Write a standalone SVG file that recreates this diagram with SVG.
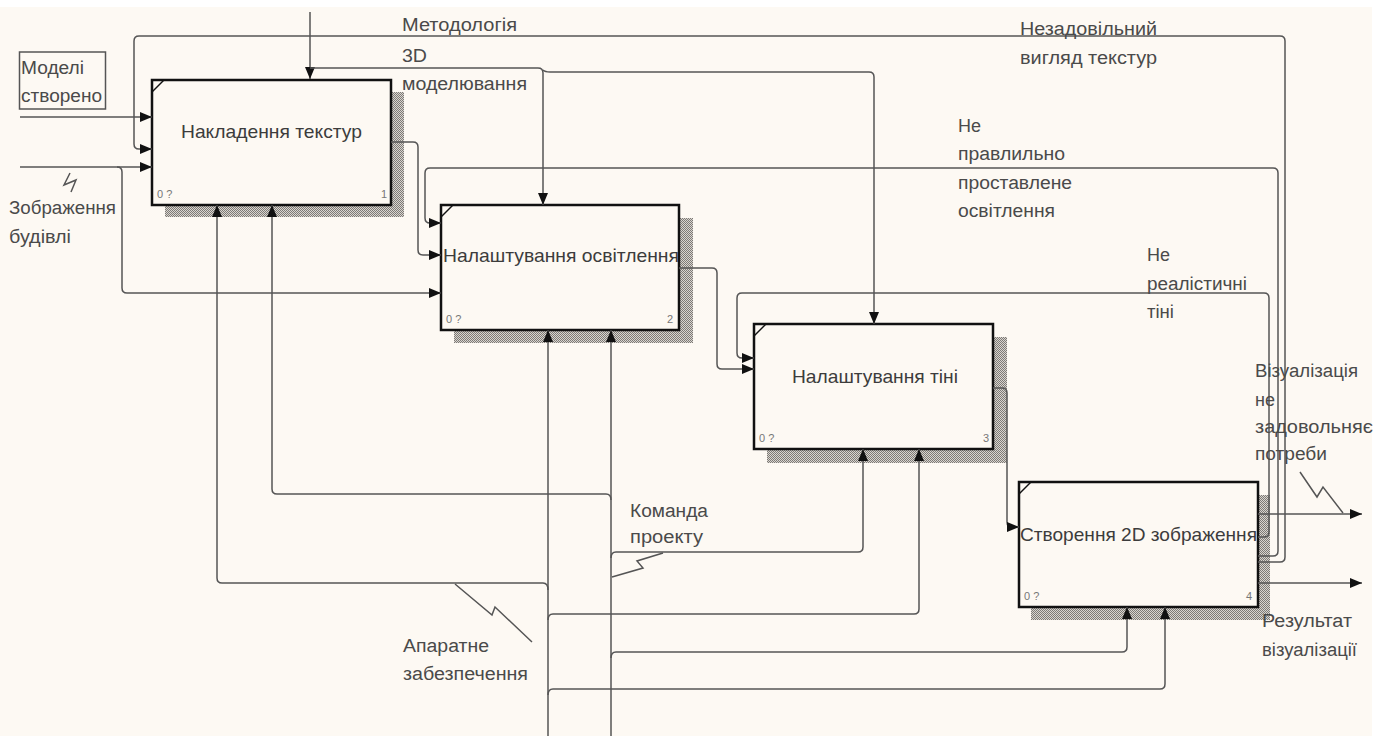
<svg xmlns="http://www.w3.org/2000/svg" width="1382" height="736" viewBox="0 0 1382 736">
<defs>
<pattern id="hatch" width="2" height="2" patternUnits="userSpaceOnUse">
<rect width="2" height="2" fill="#d9d5cf"/>
<rect width="1" height="1" fill="#7d7a76"/>
<rect x="1" y="1" width="1" height="1" fill="#7d7a76"/>
</pattern>
<marker id="ah" viewBox="0 0 12 10" refX="12" refY="5" markerWidth="12" markerHeight="10" markerUnits="userSpaceOnUse" orient="auto">
<path d="M0,0 L12,5 L0,10 z" fill="#111"/>
</marker>
</defs>
<style>
.bg{fill:#fdf9f3}
.box{fill:#fdf9f3;stroke:#111;stroke-width:2.5}
.sh{fill:url(#hatch)}
.tick{stroke:#111;stroke-width:1.5;fill:none}
.ln{fill:none;stroke:#555;stroke-width:1.5}
.ar{marker-end:url(#ah)}
.t{font-family:"Liberation Sans",Arial,sans-serif;font-size:18px;fill:#4a4a4a}
.tt{font-family:"Liberation Sans",Arial,sans-serif;font-size:19px;fill:#3c3c3c}
.s{font-family:"Liberation Sans",Arial,sans-serif;font-size:11px;fill:#777}
</style>
<rect width="1382" height="736" fill="#ffffff"/>
<rect class="bg" x="0" y="7" width="1372" height="729"/>

<g id="node1">
<rect class="sh" x="165" y="92" width="239" height="125"/>
<rect class="box" x="152" y="80" width="239" height="125"/>
<path class="tick" d="M152,92 L164,80"/>
<text class="tt" x="181" y="138" textLength="181" lengthAdjust="spacingAndGlyphs">Накладення текстур</text>
<text class="s" x="157" y="198">0 ?</text>
<text class="s" x="381" y="198">1</text>
</g>

<g id="node2">
<rect class="sh" x="454" y="218" width="239" height="125"/>
<rect class="box" x="441" y="205" width="238" height="125"/>
<path class="tick" d="M441,217 L453,205"/>
<text class="tt" x="443" y="262" textLength="236" lengthAdjust="spacingAndGlyphs">Налаштування освітлення</text>
<text class="s" x="446" y="323">0 ?</text>
<text class="s" x="667" y="323">2</text>
</g>

<g id="node3">
<rect class="sh" x="767" y="337" width="240" height="126"/>
<rect class="box" x="754" y="324" width="239" height="125"/>
<path class="tick" d="M754,336 L766,324"/>
<text class="tt" x="792" y="383" textLength="166" lengthAdjust="spacingAndGlyphs">Налаштування тіні</text>
<text class="s" x="759" y="442">0 ?</text>
<text class="s" x="983" y="442">3</text>
</g>

<g id="node4">
<rect class="sh" x="1031" y="495" width="239" height="125"/>
<rect class="box" x="1019" y="482" width="239" height="125"/>
<path class="tick" d="M1019,494 L1031,482"/>
<text class="tt" x="1020" y="541" textLength="237" lengthAdjust="spacingAndGlyphs">Створення 2D зображення</text>
<text class="s" x="1024" y="600">0 ?</text>
<text class="s" x="1246" y="600">4</text>
</g>

<g id="connectors">
<path class="ln ar" d="M20,117 H152"/>
<path class="ln ar" d="M20,167 H152"/>
<path class="ln ar" d="M117,167 Q122,167 122,172 V288 Q122,293 127,293 H441"/>
<path class="ln ar" d="M310,12 V79"/>
<path class="ln ar" d="M310,68 H538 Q543,68 543,73 V205"/>
<path class="ln ar" d="M543,70 Q545,72 550,72 H869 Q874,72 874,77 V324"/>
<path class="ln ar" d="M391,142 H413 Q418,142 418,147 V250 Q418,255 423,255 H441"/>
<path class="ln ar" d="M679,268 H712 Q717,268 717,273 V364 Q717,369 722,369 H754"/>
<path class="ln ar" d="M993,388 H1002 Q1007,388 1007,393 V522 Q1007,527 1012,527 H1019"/>
<path class="ln ar" d="M1258,514 H1362"/>
<path class="ln ar" d="M1258,583 H1362"/>
<path class="ln ar" d="M1258,537 H1264 Q1269,537 1269,532 V298 Q1269,293 1264,293 H742 Q737,293 737,298 V353 Q737,358 742,358 H754"/>
<path class="ln ar" d="M1258,556 H1273 Q1278,556 1278,551 V173 Q1278,168 1273,168 H430 Q425,168 425,173 V218 Q425,223 430,223 H441"/>
<path class="ln ar" d="M1258,562 H1280 Q1285,562 1285,557 V41 Q1285,36 1280,36 H139 Q134,36 134,41 V144 Q134,149 139,149 H152"/>
<path class="ln ar" d="M548,736 V330"/>
<path class="ln ar" d="M611,736 V330"/>
<path class="ln ar" d="M548,590 Q548,583 543,583 H222 Q217,583 217,578 V205"/>
<path class="ln ar" d="M611,500 Q611,494 606,494 H277 Q272,494 272,489 V205"/>
<path class="ln ar" d="M611,558 Q611,552 616,552 H858 Q863,552 863,547 V449"/>
<path class="ln ar" d="M548,620 Q548,614 553,614 H914 Q919,614 919,609 V449"/>
<path class="ln ar" d="M611,658 Q611,652 616,652 H1122 Q1127,652 1127,647 V607"/>
<path class="ln ar" d="M548,695 Q548,689 553,689 H1160 Q1165,689 1165,684 V607"/>
<path class="ln" d="M70,173 L64,185 L76,180 L71,192"/>
<path class="ln" d="M455,584 L492,615 L495,607 L532,642"/>
<path class="ln" d="M663,553 L637,561 L643,568 L612,577"/>
<path class="ln" d="M1300,472 L1317,497 L1323,487 L1343,513"/>
</g>

<g id="labels">
<rect x="19.5" y="52" width="86" height="57" fill="none" stroke="#555" stroke-width="1.5"/>
<text class="t" x="21" y="74" textLength="63" lengthAdjust="spacingAndGlyphs">Моделі</text>
<text class="t" x="21" y="102" textLength="81" lengthAdjust="spacingAndGlyphs">створено</text>
<text class="t" x="9" y="214" textLength="107" lengthAdjust="spacingAndGlyphs">Зображення</text>
<text class="t" x="9" y="243" textLength="62" lengthAdjust="spacingAndGlyphs">будівлі</text>
<text class="t" x="402" y="31" textLength="115" lengthAdjust="spacingAndGlyphs">Методологія</text>
<text class="t" x="402" y="62" textLength="25" lengthAdjust="spacingAndGlyphs">3D</text>
<text class="t" x="402" y="90" textLength="125" lengthAdjust="spacingAndGlyphs">моделювання</text>
<text class="t" x="1020" y="35" textLength="137" lengthAdjust="spacingAndGlyphs">Незадовільний</text>
<text class="t" x="1020" y="64" textLength="137" lengthAdjust="spacingAndGlyphs">вигляд текстур</text>
<text class="t" x="958" y="132" textLength="23" lengthAdjust="spacingAndGlyphs">Не</text>
<text class="t" x="958" y="160" textLength="107" lengthAdjust="spacingAndGlyphs">правлильно</text>
<text class="t" x="958" y="189" textLength="114" lengthAdjust="spacingAndGlyphs">проставлене</text>
<text class="t" x="958" y="217" textLength="97" lengthAdjust="spacingAndGlyphs">освітлення</text>
<text class="t" x="1147" y="261" textLength="23" lengthAdjust="spacingAndGlyphs">Не</text>
<text class="t" x="1147" y="290" textLength="100" lengthAdjust="spacingAndGlyphs">реалістичні</text>
<text class="t" x="1147" y="318" textLength="27" lengthAdjust="spacingAndGlyphs">тіні</text>
<text class="t" x="1255" y="377" textLength="103" lengthAdjust="spacingAndGlyphs">Візуалізація</text>
<text class="t" x="1255" y="406" textLength="20" lengthAdjust="spacingAndGlyphs">не</text>
<text class="t" x="1255" y="433" textLength="118" lengthAdjust="spacingAndGlyphs">задовольняє</text>
<text class="t" x="1255" y="460" textLength="72" lengthAdjust="spacingAndGlyphs">потреби</text>
<text class="t" x="1262" y="627" textLength="90" lengthAdjust="spacingAndGlyphs">Результат</text>
<text class="t" x="1262" y="656" textLength="95" lengthAdjust="spacingAndGlyphs">візуалізації</text>
<text class="t" x="630" y="517" textLength="78" lengthAdjust="spacingAndGlyphs">Команда</text>
<text class="t" x="630" y="543" textLength="73" lengthAdjust="spacingAndGlyphs">проекту</text>
<text class="t" x="403" y="652" textLength="86" lengthAdjust="spacingAndGlyphs">Апаратне</text>
<text class="t" x="403" y="680" textLength="125" lengthAdjust="spacingAndGlyphs">забезпечення</text>
</g>
</svg>
